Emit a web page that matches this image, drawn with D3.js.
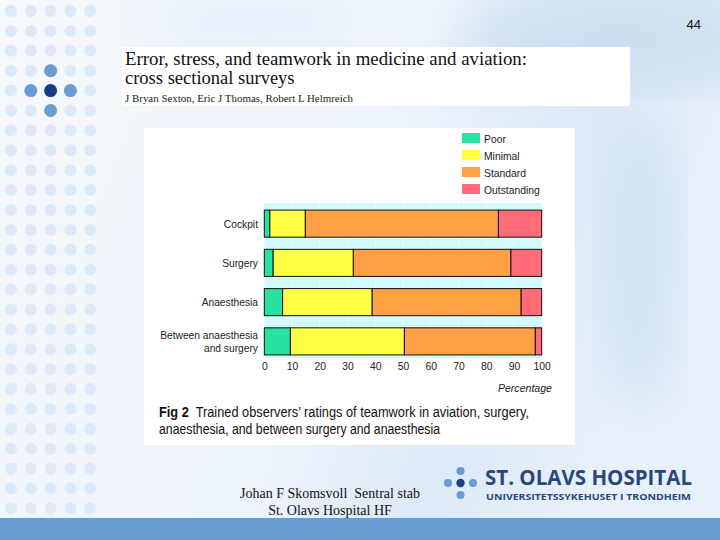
<!DOCTYPE html>
<html>
<head>
<meta charset="utf-8">
<script src="https://cdn.jsdelivr.net/npm/d3@7"></script>
<style>
  body { margin: 0; padding: 0; overflow: hidden; }
  svg { display: block; }
</style>
</head>
<body>
<div id="slide"></div>
<script>
// Data
var categories = ["Cockpit", "Surgery", "Anaesthesia", "Between anaesthesia\nand surgery"];
var ratings = ["Poor", "Minimal", "Standard", "Outstanding"];
var poor        = [2,   3.2,  6.6,  9.4];
var minimal     = [12.8, 28.9, 32.3, 41.1];
var standard    = [69.6, 56.8, 53.7, 47.2];
var outstanding = [15.6, 11.1, 7.4,  2.3];
var xTicks = [0, 10, 20, 30, 40, 50, 60, 70, 80, 90, 100];
var colors = ["#28e2a2", "#ffff44", "#ffa044", "#ff6b78"];

var W = 720, H = 540;

// squeeze text horizontally, the figure uses a condensed face
function condense(sel, k) {
  sel.each(function() {
    var n = this.getComputedTextLength();
    d3.select(this)
      .attr("textLength", n * k)
      .attr("lengthAdjust", "spacingAndGlyphs");
  });
}

var svg = d3.select("#slide")
  .append("svg")
    .attr("width", W)
    .attr("height", H);

// Background
var defs = svg.append("defs");
var grad = defs.append("linearGradient")
  .attr("id", "bg")
  .attr("x1", "0").attr("y1", "0").attr("x2", "1").attr("y2", "0.3");
grad.append("stop").attr("offset", "0").attr("stop-color", "#f6f9fd");
grad.append("stop").attr("offset", "0.55").attr("stop-color", "#eef4fb");
grad.append("stop").attr("offset", "0.8").attr("stop-color", "#dde9f6");
grad.append("stop").attr("offset", "1").attr("stop-color", "#e8f0f9");
defs.append("filter").attr("id", "blur")
  .append("feGaussianBlur").attr("stdDeviation", 25);
svg.append("rect")
  .attr("width", W).attr("height", H)
  .attr("fill", "url(#bg)");
svg.append("ellipse")
  .attr("cx", 620).attr("cy", 40).attr("rx", 160).attr("ry", 50)
  .attr("fill", "#c9dcf0").attr("opacity", 0.8)
  .attr("filter", "url(#blur)");
svg.append("ellipse")
  .attr("cx", 640).attr("cy", 260).attr("rx", 40).attr("ry", 150)
  .attr("fill", "#cfe0f2").attr("opacity", 0.8)
  .attr("filter", "url(#blur)");
svg.append("ellipse")
  .attr("cx", 250).attr("cy", 20).attr("rx", 110).attr("ry", 25)
  .attr("fill", "#e2ecf7").attr("opacity", 0.9)
  .attr("filter", "url(#blur)");

// Dot grid on the left
var dotCols = d3.range(5), dotRows = d3.range(26);
var dots = [];
dotRows.forEach(function(r) {
  dotCols.forEach(function(c) { dots.push({r: r, c: c}); });
});
svg.append("g")
  .selectAll("circle")
  .data(dots)
  .enter()
  .append("circle")
    .attr("cx", function(d) { return 11 + d.c * 19.8; })
    .attr("cy", function(d) { return 11 + d.r * 19.9; })
    .attr("r", 6)
    .attr("fill", "#dce9f8");

var accent = [
  {c: 2, r: 3, col: "#6b9bd1"},
  {c: 1, r: 4, col: "#6b9bd1"},
  {c: 3, r: 4, col: "#6b9bd1"},
  {c: 2, r: 5, col: "#6b9bd1"},
  {c: 2, r: 4, col: "#173d8a"}
];
svg.append("g")
  .selectAll("circle")
  .data(accent)
  .enter()
  .append("circle")
    .attr("cx", function(d) { return 11 + d.c * 19.8; })
    .attr("cy", function(d) { return 11 + d.r * 19.9; })
    .attr("r", 6.5)
    .attr("fill", function(d) { return d.col; });

// Bottom bar
svg.append("rect")
  .attr("x", 0).attr("y", 518)
  .attr("width", W).attr("height", 22)
  .attr("fill", "#679dd3");

// Page number
svg.append("text")
  .attr("x", 701).attr("y", 29)
  .attr("text-anchor", "end")
  .style("font-family", "Liberation Sans, Arial, sans-serif")
  .style("font-size", "13px")
  .attr("fill", "#111")
  .text("44");

// Title panel
svg.append("rect")
  .attr("x", 122).attr("y", 47)
  .attr("width", 508).attr("height", 59)
  .attr("fill", "#fff");
var serif = "Liberation Serif, Times New Roman, serif";
svg.append("text")
  .attr("x", 125).attr("y", 65)
  .attr("textLength", 402)
  .attr("lengthAdjust", "spacingAndGlyphs")
  .style("font-family", serif).style("font-size", "18.5px")
  .attr("fill", "#111")
  .text("Error, stress, and teamwork in medicine and aviation:");
svg.append("text")
  .attr("x", 125).attr("y", 84)
  .style("font-family", serif).style("font-size", "18.5px")
  .attr("fill", "#111")
  .text("cross sectional surveys");
svg.append("text")
  .attr("x", 125).attr("y", 102)
  .attr("textLength", 228)
  .attr("lengthAdjust", "spacingAndGlyphs")
  .style("font-family", serif).style("font-size", "10.5px")
  .attr("fill", "#222")
  .text("J Bryan Sexton, Eric J Thomas, Robert L Helmreich");

// Chart panel
svg.append("rect")
  .attr("x", 144).attr("y", 128)
  .attr("width", 431).attr("height", 317)
  .attr("fill", "#fff");

var sans = "Liberation Sans, Arial, sans-serif";

// Scales
var x = d3.scaleLinear()
  .domain([0, 100])
  .range([264.3, 541.7]);
var y = d3.scaleBand()
  .domain(categories)
  .range([205, 360])
  .paddingInner(0.31)
  .paddingOuter(0.13);

// Plot background + grid
svg.append("rect")
  .attr("x", x(0)).attr("y", 203)
  .attr("width", x(100) - x(0)).attr("height", 155)
  .attr("fill", "#d2f9fb");
svg.append("g")
  .selectAll("line")
  .data(xTicks.slice(1, -1))
  .enter()
  .append("line")
    .attr("x1", function(d) { return x(d); })
    .attr("x2", function(d) { return x(d); })
    .attr("y1", 203).attr("y2", 358)
    .attr("stroke", "#ffffff")
    .attr("stroke-opacity", 0.6)
    .attr("stroke-width", 1);

// Stacked bars
var rows = categories.map(function(c, i) {
  return {cat: c, Poor: poor[i], Minimal: minimal[i], Standard: standard[i], Outstanding: outstanding[i]};
});
var series = d3.stack().keys(ratings)(rows);

svg.append("g")
  .selectAll("g")
  .data(series)
  .enter()
  .append("g")
    .attr("fill", function(d, i) { return colors[i]; })
  .selectAll("rect")
  .data(function(d) { return d; })
  .enter()
  .append("rect")
    .attr("x", function(d) { return x(d[0]); })
    .attr("y", function(d) { return y(d.data.cat); })
    .attr("width", function(d) { return x(d[1]) - x(d[0]); })
    .attr("height", y.bandwidth())
    .attr("stroke", "#111")
    .attr("stroke-width", 1);

// Category labels
var catLabels = svg.append("g")
  .selectAll("text")
  .data(categories)
  .enter()
  .append("text")
    .attr("x", 258)
    .attr("y", function(d) { return y(d) + y.bandwidth() / 2; })
    .attr("text-anchor", "end")
    .style("font-family", sans)
    .style("font-size", "11.5px")
    .attr("fill", "#222");
catLabels.each(function(d) {
  var lines = d.split("\n");
  var t = d3.select(this);
  lines.forEach(function(l, i) {
    t.append("tspan")
      .attr("x", 258)
      .attr("dy", i === 0 ? (4 - (lines.length - 1) * 6.5) + "px" : "13px")
      .text(l);
  });
});
condense(catLabels.selectAll("tspan"), 0.89);

// X axis
var xAxis = svg.append("g")
  .attr("transform", "translate(0,370)")
  .call(d3.axisBottom(x).tickValues(xTicks).tickSize(0).tickPadding(0));
xAxis.select(".domain").remove();
xAxis.selectAll("text")
  .style("font-family", sans)
  .style("font-size", "11.5px")
  .attr("fill", "#222")
  .attr("dy", "0");
condense(xAxis.selectAll("text"), 0.9);
var pct = svg.append("text")
  .attr("x", 552).attr("y", 392)
  .attr("text-anchor", "end")
  .style("font-family", sans)
  .style("font-size", "11.5px")
  .style("font-style", "italic")
  .attr("fill", "#222")
  .text("Percentage");
condense(pct, 0.92);

// Legend
var legend = svg.append("g")
  .selectAll("g")
  .data(ratings)
  .enter()
  .append("g")
    .attr("transform", function(d, i) { return "translate(462," + (133 + i * 17) + ")"; });
legend.append("rect")
  .attr("width", 18).attr("height", 10)
  .attr("fill", function(d, i) { return colors[i]; });
condense(legend.append("text")
  .attr("x", 22).attr("y", 9.5)
  .style("font-family", sans)
  .style("font-size", "11.5px")
  .attr("fill", "#222")
  .text(function(d) { return d; }), 0.9);

// Caption
var cap = svg.append("text")
  .attr("x", 159).attr("y", 417)
  .attr("textLength", 370)
  .attr("lengthAdjust", "spacingAndGlyphs")
  .attr("xml:space", "preserve")
  .style("font-family", sans)
  .style("font-size", "14px")
  .attr("fill", "#111");
cap.append("tspan").style("font-weight", "bold").text("Fig 2");
cap.append("tspan").text("  Trained observers\u2019 ratings of teamwork in aviation, surgery,");
svg.append("text")
  .attr("x", 159).attr("y", 434)
  .attr("textLength", 281)
  .attr("lengthAdjust", "spacingAndGlyphs")
  .style("font-family", sans)
  .style("font-size", "14px")
  .attr("fill", "#111")
  .text("anaesthesia, and between surgery and anaesthesia");

// Footer
svg.append("text")
  .attr("x", 330).attr("y", 498)
  .attr("text-anchor", "middle")
  .style("font-family", serif).style("font-size", "14px")
  .attr("fill", "#111")
  .text("Johan F Skomsvoll\u00a0\u00a0Sentral stab");
svg.append("text")
  .attr("x", 330).attr("y", 515)
  .attr("text-anchor", "middle")
  .style("font-family", serif).style("font-size", "14px")
  .attr("fill", "#111")
  .text("St. Olavs Hospital HF");

// Logo
var logoDots = [
  {x: 460.5, y: 471, r: 4, col: "#6b9bd1"},
  {x: 448,   y: 483, r: 4, col: "#6b9bd1"},
  {x: 460.5, y: 483, r: 4.2, col: "#1b3f86"},
  {x: 473,   y: 483, r: 4, col: "#6b9bd1"},
  {x: 460.5, y: 495, r: 4, col: "#6b9bd1"}
];
svg.append("g")
  .selectAll("circle")
  .data(logoDots)
  .enter()
  .append("circle")
    .attr("cx", function(d) { return d.x; })
    .attr("cy", function(d) { return d.y; })
    .attr("r", function(d) { return d.r; })
    .attr("fill", function(d) { return d.col; });
svg.append("text")
  .attr("x", 485).attr("y", 485)
  .attr("textLength", 207)
  .attr("lengthAdjust", "spacingAndGlyphs")
  .style("font-family", "Open Sans, Liberation Sans, sans-serif")
  .style("font-weight", "bold")
  .style("font-size", "21px")
  .attr("fill", "#29477c")
  .text("ST. OLAVS HOSPITAL");
svg.append("text")
  .attr("x", 486).attr("y", 500)
  .attr("textLength", 205)
  .attr("lengthAdjust", "spacingAndGlyphs")
  .style("font-family", "Open Sans, Liberation Sans, sans-serif")
  .style("font-weight", "bold")
  .style("font-size", "9px")
  .attr("fill", "#29477c")
  .text("UNIVERSITETSSYKEHUSET I TRONDHEIM");
</script>
</body>
</html>
